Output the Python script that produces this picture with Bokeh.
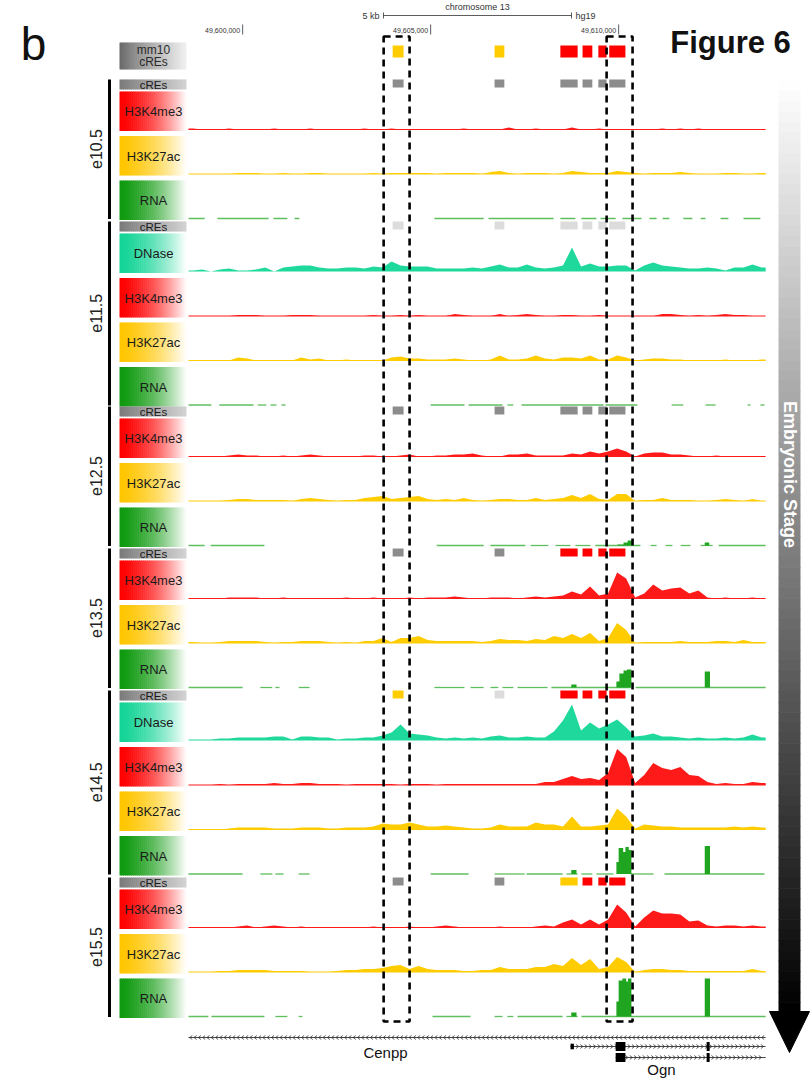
import numpy as np
from bokeh.plotting import figure
from bokeh.models import Range1d
from bokeh.embed import file_html
from bokeh.resources import INLINE
from bokeh.core.properties import value

# ====================== DATA ======================
view_start_kb = 49598.56          # chr13 (hg19), left edge of the view, kb
bin_kb = 0.24                     # signal bin size, kb (64 bins)
view_len_kb = 15.35

tick_kb = [49600, 49605, 49610]
tick_labels = ["49,600,000", "49,605,000", "49,610,000"]
scale_kb = 5

stages = ["e10.5", "e11.5", "e12.5", "e13.5", "e14.5", "e15.5"]
stage_assays = [
    ["H3K4me3", "H3K27ac", "RNA"],
    ["DNase", "H3K4me3", "H3K27ac", "RNA"],
    ["H3K4me3", "H3K27ac", "RNA"],
    ["H3K4me3", "H3K27ac", "RNA"],
    ["DNase", "H3K4me3", "H3K27ac", "RNA"],
    ["H3K4me3", "H3K27ac", "RNA"],
]

# candidate regulatory elements (kb from view start) and their state per track
cre_start = [5.43, 8.14, 9.89, 10.48, 10.90, 11.19]
cre_end = [5.72, 8.40, 10.35, 10.74, 11.12, 11.62]
cre_mm10 = ["ELS", "ELS", "PLS", "PLS", "PLS", "PLS"]
cre_e105 = ["low", "low", "low", "low", "low", "low"]
cre_e115 = ["na", "na", "na", "na", "na", "na"]
cre_e125 = ["low", "low", "low", "low", "low", "low"]
cre_e135 = ["low", "low", "PLS", "PLS", "PLS", "PLS"]
cre_e145 = ["ELS", "na", "PLS", "PLS", "PLS", "PLS"]
cre_e155 = ["low", "low", "ELS", "PLS", "PLS", "PLS"]

# binned signal (64 bins of 0.24 kb)
k4_e105 = [1,0,0,0,1,0,0,0,0,1, 0,0,0,1,0,0,0,0,0,1, 0,0,1,0,0,0,0,0,0,0,
           1,0,0,0,0,2,0,0,1,0, 0,0,2,0,0,1,0,0,0,0, 0,0,1,0,1,0,1,0,0,0, 0,0,0,0]
k27_e105 = [0,0,0,0,0,1,1,1,0,0, 1,0,0,1,1,0,0,0,0,0, 1,0,1,1,1,1,1,0,1,1,
            1,1,0,2,3,1,0,1,1,1, 0,1,3,2,1,1,1,3,2,1, 0,1,1,1,2,1,0,0,0,1, 1,0,0,1]
dn_e115 = [1,2,0,2,3,1,1,2,4,0, 4,5,6,6,4,3,3,4,4,3, 5,4,10,6,5,5,5,3,3,3,
           3,4,3,5,7,4,4,7,4,3, 4,6,24,5,8,5,5,6,6,1, 6,9,6,5,4,3,3,4,3,1, 4,4,7,4]
k4_e115 = [0,0,0,0,0,1,1,1,0,0, 0,1,1,1,0,0,0,0,0,0, 1,0,0,1,0,1,0,0,0,2,
           1,0,0,0,2,0,1,2,1,0, 0,1,1,0,0,1,0,0,0,0, 0,0,2,2,1,0,1,0,1,2, 1,1,0,0]
k27_e115 = [0,0,0,0,0,3,2,0,0,0, 0,0,3,1,2,0,0,1,0,0, 0,0,3,4,2,2,1,1,1,2,
            1,0,0,1,5,1,1,2,5,2, 1,3,3,2,5,1,1,5,3,0, 1,2,2,1,1,0,0,0,0,1, 0,0,0,1]
k4_e125 = [0,0,0,0,1,2,1,1,0,0, 1,0,1,2,1,0,0,0,0,1, 1,0,0,1,2,0,0,1,1,2,
           2,3,1,0,0,2,2,3,1,1, 1,1,3,2,5,3,5,8,5,0, 3,4,4,2,2,1,0,0,1,0, 0,0,0,0]
k27_e125 = [0,0,0,0,1,2,2,1,1,1, 1,0,2,3,2,1,0,1,1,3, 4,5,2,3,4,5,2,1,2,1,
            3,1,0,1,2,2,1,1,3,1, 2,3,6,3,7,2,1,7,7,0, 1,1,3,1,1,1,0,0,1,2, 1,0,2,0]
k4_e135 = [0,0,0,0,1,1,1,1,0,0, 1,0,0,0,0,0,0,1,0,0, 1,0,0,0,1,0,1,1,1,2,
           1,0,0,1,1,1,0,1,2,1, 2,3,7,4,12,3,5,26,20,1, 5,14,8,10,11,5,8,1,0,1, 0,0,1,0]
k27_e135 = [1,0,0,1,2,2,2,2,1,0, 1,1,2,2,2,1,0,1,0,2, 2,5,1,5,5,7,3,2,2,2,
            2,2,1,2,4,3,3,2,4,3, 7,5,9,5,10,2,5,20,13,0, 1,1,1,1,2,1,1,1,2,2, 1,3,1,1]
dn_e145 = [1,1,1,2,2,3,3,3,3,4, 4,1,4,4,3,3,1,2,2,3, 3,5,8,16,7,6,5,3,2,3,
           2,3,2,4,5,3,3,4,3,3, 9,20,36,10,18,12,16,21,13,4, 5,7,4,4,3,2,3,2,2,3, 2,3,6,3]
k4_e145 = [0,0,0,1,0,1,1,1,1,2, 1,1,2,2,1,1,1,0,1,1, 1,1,1,0,1,1,1,0,1,1,
           1,1,1,1,1,1,1,1,1,3, 3,6,9,6,7,5,12,36,28,2, 10,22,17,15,18,10,9,3,1,2, 1,1,3,2]
k27_e145 = [0,0,0,0,1,2,2,2,2,1, 1,1,2,2,2,1,1,2,2,2, 3,6,5,5,7,5,3,3,4,3,
            2,1,1,2,5,3,3,3,7,5, 5,3,13,3,3,4,5,21,13,1, 5,4,3,3,2,2,2,2,2,2, 3,2,3,2]
k4_e155 = [0,0,0,0,0,1,2,0,1,2, 1,0,1,0,0,0,0,0,0,0, 1,0,0,0,1,0,0,1,2,1,
           0,0,0,0,1,0,0,0,1,2, 1,5,8,3,8,3,8,23,15,1, 10,17,14,14,13,6,7,2,1,2, 2,1,2,1]
k27_e155 = [0,0,0,1,1,2,2,2,2,1, 1,1,1,0,0,0,1,2,2,3, 3,4,6,7,3,6,3,2,2,2,
            1,1,2,2,5,3,3,3,5,5, 8,6,14,7,13,3,5,15,10,0, 2,3,3,2,2,1,1,1,1,1, 1,1,3,1]

# RNA: covered stretches (kb start, kb end) and coverage blocks (start, end, height)
rna_cov_e105 = [(0.00, 0.43), (0.77, 2.13), (2.26, 2.63), (2.82, 2.95), (6.54, 7.85), (7.98, 9.71),
                (9.89, 10.29), (10.45, 10.85), (10.96, 11.36), (11.54, 12.05), (12.26, 12.45),
                (12.61, 12.79), (13.16, 13.40), (13.62, 13.75), (14.15, 14.36), (14.76, 15.21)]
rna_cov_e115 = [(0.00, 0.61), (0.82, 1.73), (1.84, 2.07), (2.18, 2.34), (2.47, 2.58), (6.44, 7.34),
                (7.45, 8.35), (8.48, 8.64), (8.86, 11.04), (11.09, 11.94), (12.85, 13.16),
                (13.75, 14.02), (14.87, 14.95), (15.21, 15.32)]
rna_cov_e125 = [(0.00, 0.43), (0.59, 2.02), (6.60, 7.85), (8.03, 8.96), (9.10, 9.57), (9.76, 10.16),
                (10.29, 10.69), (10.82, 12.02), (12.29, 12.45), (12.69, 12.87), (13.09, 13.35),
                (13.62, 13.94), (14.10, 15.35)]
rna_cov_e135 = [(0.00, 1.44), (1.91, 2.23), (2.31, 2.42), (2.93, 3.22), (6.54, 7.34), (7.50, 7.85),
                (8.03, 8.24), (8.35, 8.64), (8.75, 9.55), (9.65, 11.76), (11.89, 15.35)]
rna_cov_e145 = [(0.00, 1.44), (1.91, 2.23), (2.31, 2.53), (2.93, 3.22), (6.44, 7.45), (8.14, 8.94),
                (8.99, 9.95), (10.05, 10.35), (10.45, 10.74), (10.85, 11.30), (11.76, 12.37),
                (12.66, 15.32)]
rna_cov_e155 = [(0.00, 0.53), (0.61, 2.02), (2.31, 2.63), (2.93, 3.03), (6.49, 7.50), (8.14, 8.35),
                (8.48, 8.64), (8.75, 9.95), (10.05, 10.35), (10.45, 15.35)]
rna_peak_e105 = []
rna_peak_e115 = []
rna_peak_e125 = [(11.41, 11.57, 1), (11.57, 11.68, 3), (11.68, 11.78, 5), (13.73, 13.83, 3)]
rna_peak_e135 = [(10.18, 10.30, 3), (11.38, 11.46, 6), (11.46, 11.57, 14), (11.57, 11.66, 17),
                 (11.66, 11.76, 18), (13.73, 13.85, 16)]
rna_peak_e145 = [(10.18, 10.30, 4), (11.38, 11.44, 12), (11.44, 11.54, 26), (11.54, 11.62, 22),
                 (11.62, 11.69, 27), (11.69, 11.76, 24), (13.73, 13.85, 28)]
rna_peak_e155 = [(10.18, 10.30, 4), (11.38, 11.44, 15), (11.44, 11.54, 36), (11.54, 11.62, 38),
                 (11.62, 11.69, 35), (11.69, 11.76, 38), (13.73, 13.85, 38)]

highlight_kb = [(5.19, 5.88), (11.12, 11.81)]

cenpp_span = (0.0, 15.35)
ogn_tx_span = [(10.16, 15.35), (11.36, 15.35)]
ogn_tx_exons = [[(10.16, 10.25), (11.36, 11.62), (13.78, 13.86)],
                [(11.36, 11.62), (13.78, 13.86)]]

# ====================== LAYOUT / STYLE ======================
PX_PER_KB = 37.6
TRACK_X0 = 188.0
FONT = value("Liberation Sans")
W, H = 812, 1080


def px(xpx):                      # page pixel -> x data
    return view_start_kb + (xpx - TRACK_X0) / PX_PER_KB


def gx(off):                      # kb offset -> x data
    return view_start_kb + off


def kb2px(off):
    return TRACK_X0 + off * PX_PER_KB


STAGE_TOP = [79, 221, 406, 548, 690, 877]
FIRST = 50.0
PITCH = 44.5

SIG_COLOR = {"H3K4me3": "#ff1a1a", "H3K27ac": "#ffcc00", "DNase": "#1ed99b", "RNA": "#1fa51f"}
BOX_COLOR = {"H3K4me3": "#ff0000", "H3K27ac": "#ffc600", "DNase": "#14d496", "RNA": "#0f9a0f"}
CRE_COLOR = {"PLS": "#ff0000", "ELS": "#ffcc00", "low": "#8c8c8c", "na": "#dcdcdc"}

signal = {
    ("e10.5", "H3K4me3"): k4_e105, ("e10.5", "H3K27ac"): k27_e105,
    ("e11.5", "DNase"): dn_e115, ("e11.5", "H3K4me3"): k4_e115, ("e11.5", "H3K27ac"): k27_e115,
    ("e12.5", "H3K4me3"): k4_e125, ("e12.5", "H3K27ac"): k27_e125,
    ("e13.5", "H3K4me3"): k4_e135, ("e13.5", "H3K27ac"): k27_e135,
    ("e14.5", "DNase"): dn_e145, ("e14.5", "H3K4me3"): k4_e145, ("e14.5", "H3K27ac"): k27_e145,
    ("e15.5", "H3K4me3"): k4_e155, ("e15.5", "H3K27ac"): k27_e155,
}
rna_cov = dict(zip(stages, [rna_cov_e105, rna_cov_e115, rna_cov_e125, rna_cov_e135, rna_cov_e145, rna_cov_e155]))
rna_peak = dict(zip(stages, [rna_peak_e105, rna_peak_e115, rna_peak_e125, rna_peak_e135, rna_peak_e145, rna_peak_e155]))
cre_state = dict(zip(stages, [cre_e105, cre_e115, cre_e125, cre_e135, cre_e145, cre_e155]))

p = figure(width=W, height=H, x_range=Range1d(px(0), px(W)), y_range=Range1d(H, 0),
           x_axis_location=None, y_axis_location=None, toolbar_location=None,
           output_backend="svg", min_border=0, outline_line_color=None)
p.grid.grid_line_color = None


def hex2rgb(h):
    h = h.lstrip("#")
    return [int(h[i:i + 2], 16) for i in (0, 2, 4)]


def mix(c0, c1, t):
    a, b = hex2rgb(c0), hex2rgb(c1)
    return "#%02x%02x%02x" % tuple(int(round(a[i] + (b[i] - a[i]) * t)) for i in range(3))


G = dict(left=[], right=[], top=[], bottom=[], color=[])


def hgrad(x0, x1, y0, y1, c0, c1="#ffffff", n=34, gamma=1.0):
    e = np.linspace(x0, x1, n + 1)
    for i in range(n):
        t = ((i + 0.5) / n) ** gamma
        G["left"].append(px(e[i])); G["right"].append(px(min(e[i + 1] + 0.6, x1)))
        G["top"].append(y0); G["bottom"].append(y1); G["color"].append(mix(c0, c1, t))


def vgrad(x0, x1, y0, y1, c0, c1, n=90):
    e = np.linspace(y0, y1, n + 1)
    for i in range(n):
        t = (i + 0.5) / n
        G["left"].append(px(x0)); G["right"].append(px(x1))
        G["top"].append(e[i]); G["bottom"].append(min(e[i + 1] + 0.6, y1)); G["color"].append(mix(c0, c1, t))


BOX_X0, BOX_X1 = 119, 186
box_labels = dict(x=[], y=[], text=[], size=[], color=[])

# mm10 cREs row
hgrad(BOX_X0, BOX_X1, 42, 69, "#686868", "#f2f2f2", gamma=0.9)
box_labels["x"] += [px(153), px(153)]; box_labels["y"] += [49.5, 61.5]
box_labels["text"] += ["mm10", "cREs"]; box_labels["size"] += ["12px", "12px"]
box_labels["color"] += ["#2a2a2a", "#2a2a2a"]
cre_q = dict(left=[], right=[], top=[], bottom=[], color=[])
for s, e, st in zip(cre_start, cre_end, cre_mm10):
    cre_q["left"].append(gx(s)); cre_q["right"].append(gx(e))
    cre_q["top"].append(45); cre_q["bottom"].append(57); cre_q["color"].append(CRE_COLOR[st])

bars = dict(x0=[], y0=[], x1=[], y1=[])
stage_txt = dict(x=[], y=[], text=[])
base_lines = dict(x0=[], y0=[], x1=[], y1=[], color=[])
rna_lines = dict(x0=[], y0=[], x1=[], y1=[])
rna_q = dict(left=[], right=[], top=[], bottom=[])

centers = [gx(bin_kb * (i + 0.5)) for i in range(64)]
xs_full = [gx(0)] + centers + [gx(view_len_kb)]

for si, stg in enumerate(stages):
    top = STAGE_TOP[si]
    # cREs row
    hgrad(BOX_X0, BOX_X1, top, top + 10, "#7a7a7a", "#d4d4d4", gamma=1.0)
    box_labels["x"].append(px(153)); box_labels["y"].append(top + 5)
    box_labels["text"].append("cREs"); box_labels["size"].append("11.5px")
    box_labels["color"].append("#1a1a1a")
    for s, e, st in zip(cre_start, cre_end, cre_state[stg]):
        cre_q["left"].append(gx(s)); cre_q["right"].append(gx(e))
        cre_q["top"].append(top); cre_q["bottom"].append(top + 8); cre_q["color"].append(CRE_COLOR[st])
    assays = stage_assays[si]
    last_base = top
    for ai, assay in enumerate(assays):
        base = top + FIRST + PITCH * ai
        last_base = base
        hgrad(BOX_X0, BOX_X1, base - 38, base + 1.5, BOX_COLOR[assay], "#ffffff", gamma=1.6)
        box_labels["x"].append(px(153)); box_labels["y"].append(base - 18)
        box_labels["text"].append(assay); box_labels["size"].append("13px")
        box_labels["color"].append("#1a1a1a")
        if assay == "RNA":
            for s, e in rna_cov[stg]:
                rna_lines["x0"].append(gx(s)); rna_lines["x1"].append(gx(e))
                rna_lines["y0"].append(base); rna_lines["y1"].append(base)
            for s, e, h in rna_peak[stg]:
                rna_q["left"].append(gx(s)); rna_q["right"].append(gx(e) + 0.02)
                rna_q["top"].append(base - h); rna_q["bottom"].append(base)
        else:
            vals = signal[(stg, assay)]
            ys = [vals[0]] + vals + [vals[-1]]
            p.varea(x=xs_full, y1=[base] * len(xs_full), y2=[base - v for v in ys],
                    fill_color=SIG_COLOR[assay])
            if assay != "DNase":
                base_lines["x0"].append(gx(0)); base_lines["x1"].append(gx(view_len_kb))
                base_lines["y0"].append(base); base_lines["y1"].append(base)
                base_lines["color"].append(SIG_COLOR[assay])
    bars["x0"].append(px(109)); bars["x1"].append(px(109))
    bars["y0"].append(top); bars["y1"].append(last_base + 0.5)
    stage_txt["x"].append(px(95)); stage_txt["y"].append((top + last_base) / 2)
    stage_txt["text"].append(stg)

# right-hand "Embryonic Stage" arrow
vgrad(778, 800, 80, 1012, "#ffffff", "#000000")

p.quad(left="left", right="right", top="top", bottom="bottom", fill_color="color",
       line_color=None, source=G)
p.quad(left="left", right="right", top="top", bottom="bottom", fill_color="color",
       line_color=None, source=cre_q)
p.segment(x0="x0", y0="y0", x1="x1", y1="y1", line_color="color", line_width=1.1, source=base_lines)
p.segment(x0="x0", y0="y0", x1="x1", y1="y1", line_color="#5fbf5f", line_width=1.3, source=rna_lines)
p.quad(left="left", right="right", top="top", bottom="bottom", fill_color=SIG_COLOR["RNA"],
       line_color=None, source=rna_q)
p.segment(x0="x0", y0="y0", x1="x1", y1="y1", line_color="black", line_width=3, source=bars)

p.text(x="x", y="y", text="text", text_font=FONT, text_font_size="size", text_color="color",
       text_align="center", text_baseline="middle", source=box_labels)
p.text(x="x", y="y", text="text", text_font=FONT, text_font_size=value("16px"), text_color="#222222",
       text_align="center", text_baseline="middle", angle=np.pi / 2, source=stage_txt)

# highlight boxes
p.quad(left=[gx(a) for a, b in highlight_kb], right=[gx(b) for a, b in highlight_kb],
       top=[36] * len(highlight_kb), bottom=[1021] * len(highlight_kb),
       fill_color=None, line_color="black", line_width=2.6, line_dash="7 5")

# arrow head
p.patch(x=[px(769), px(809), px(789)], y=[1011, 1011, 1052], fill_color="black", line_color="black")
p.text(x=[px(789)], y=[474], text=["Embryonic Stage"], text_font=FONT, text_font_size=value("18px"),
       text_font_style="bold", text_color="white", text_align="center", text_baseline="middle",
       angle=-np.pi / 2)

# genes
chev = dict(x0=[], y0=[], x1=[], y1=[])


def gene_line(s, e, y, direction):
    p.line(x=[gx(s), gx(e)], y=[y, y], line_color="#333333", line_width=0.9)
    for c in np.arange(kb2px(s) + 2.5, kb2px(e) - 1.5, 4.3):
        tip, tail = c + 1.3 * direction, c - 1.3 * direction
        chev["x0"] += [px(tail), px(tip)]; chev["y0"] += [y - 2.0, y]
        chev["x1"] += [px(tip), px(tail)]; chev["y1"] += [y, y + 2.0]


gene_line(cenpp_span[0], cenpp_span[1], 1037, -1)
ex = dict(left=[], right=[], top=[], bottom=[])
for k, ((s, e), exons) in enumerate(zip(ogn_tx_span, ogn_tx_exons)):
    y = 1046 + 11 * k
    gene_line(s, e, y, 1)
    for j, (a, b) in enumerate(exons):
        hh = 2.8 if (k == 0 and j == 0) else 4.5
        ex["left"].append(gx(a)); ex["right"].append(gx(b))
        ex["top"].append(y - hh); ex["bottom"].append(y + hh)
p.segment(x0="x0", y0="y0", x1="x1", y1="y1", line_color="#333333", line_width=0.8, source=chev)
p.quad(left="left", right="right", top="top", bottom="bottom", fill_color="black",
       line_color=None, source=ex)
p.text(x=[px(385), px(661)], y=[1052, 1069], text=["Cenpp", "Ogn"], text_font=FONT,
       text_font_size=value("15px"), text_color="#111111", text_align="center", text_baseline="middle")

# coordinate ticks and scale bar
p.segment(x0=tick_kb, y0=[24] * 3, x1=tick_kb, y1=[34] * 3, line_color="#333333", line_width=0.8)
p.text(x=[t - 2.5 / PX_PER_KB for t in tick_kb], y=[29.5] * 3, text=tick_labels, text_font=FONT,
       text_font_size=value("7px"), text_color="#333333", text_align="right", text_baseline="middle")
sb_mid = px(477)
sb0, sb1 = sb_mid - scale_kb / 2, sb_mid + scale_kb / 2
p.segment(x0=[sb0, sb0, sb1], y0=[15, 12, 12], x1=[sb1, sb0, sb1], y1=[15, 18, 18],
          line_color="#333333", line_width=0.8)
p.text(x=[sb0 - 4 / PX_PER_KB, sb1 + 4 / PX_PER_KB, sb_mid], y=[15, 15, 6],
       text=["%d kb" % scale_kb, "hg19", "chromosome 13"], text_font=FONT,
       text_font_size=value("9px"), text_color="#333333",
       text_align=["right", "left", "center"], text_baseline="middle")

# panel letter and figure title
p.text(x=[px(33)], y=[43], text=["b"], text_font=FONT, text_font_size=value("46px"),
       text_color="#111111", text_align="center", text_baseline="middle")
p.text(x=[px(730)], y=[42], text=["Figure 6"], text_font=FONT, text_font_size=value("31px"),
       text_font_style="bold", text_color="#111111", text_align="center", text_baseline="middle")

open("out.html", "w").write(file_html(p, INLINE))
